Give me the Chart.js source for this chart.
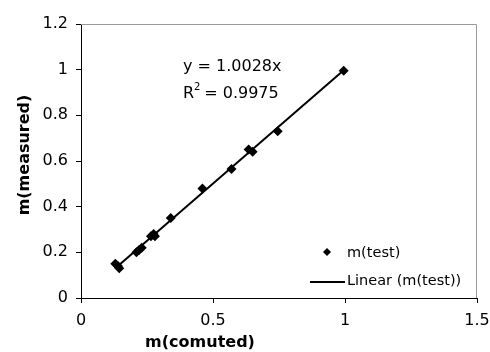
<!DOCTYPE html>
<html>
<head>
<meta charset="utf-8">
<script src="https://cdn.jsdelivr.net/npm/chart.js@4"></script>
<style>
  html, body { margin: 0; padding: 0; background: #fff; }
  #wrap { width: 490px; height: 352px; }
</style>
</head>
<body>
<div id="wrap"><canvas id="chart" width="490" height="352"></canvas></div>
<script>
// values
const computed = [0.13, 0.145, 0.14, 0.21, 0.22, 0.23, 0.265, 0.275, 0.28, 0.34, 0.46, 0.57, 0.635, 0.65, 0.745, 0.995];
const measured = [0.15, 0.13, 0.14, 0.20, 0.21, 0.22, 0.27, 0.28, 0.27, 0.35, 0.48, 0.565, 0.65, 0.64, 0.73, 0.995];
const slope = 1.0028;
const r2 = 0.9975;
const xTicks = [0, 0.5, 1, 1.5];
const yTicks = [0, 0.2, 0.4, 0.6, 0.8, 1, 1.2];

const points = computed.map((x, i) => ({ x: x, y: measured[i] }));
const xMin = Math.min(...computed);
const xMax = Math.max(...computed);
const trend = [{ x: xMin, y: slope * xMin }, { x: xMax, y: slope * xMax }];

const FONT = "'DejaVu Sans', sans-serif";
const fmt = v => String(+v.toFixed(2));

// axis titles, equation, legend and the grey frame
const extras = {
    id: 'extras',
    afterDraw(chart) {
        const ctx = chart.ctx;
        const a = chart.chartArea;
        ctx.save();
        // grey top / right frame
        ctx.strokeStyle = '#999';
        ctx.lineWidth = 1;
        ctx.beginPath();
        ctx.moveTo(a.left, a.top + 0.5);
        ctx.lineTo(a.right - 0.5, a.top + 0.5);
        ctx.lineTo(a.right - 0.5, a.bottom);
        ctx.stroke();

        ctx.fillStyle = '#000';
        // axis titles
        ctx.font = 'bold 16px ' + FONT;
        ctx.textAlign = 'center';
        ctx.textBaseline = 'middle';
        ctx.fillText('m(comuted)', 200, 343);
        ctx.save();
        ctx.translate(25, 155);
        ctx.rotate(-Math.PI / 2);
        ctx.fillText('m(measured)', 0, 0);
        ctx.restore();

        // trendline equation
        ctx.font = '16px ' + FONT;
        ctx.textAlign = 'left';
        ctx.fillText('y = ' + slope.toFixed(4) + 'x', 183, 67);
        ctx.fillText('R', 183, 94);
        const rw = ctx.measureText('R').width;
        ctx.font = '10px ' + FONT;
        ctx.fillText('2', 183 + rw, 87);
        ctx.font = '16px ' + FONT;
        ctx.fillText(' = ' + r2.toFixed(4), 183 + rw + 5, 94);

        // legend
        ctx.font = '14.5px ' + FONT;
        ctx.beginPath();
        ctx.moveTo(327, 248);
        ctx.lineTo(331, 252);
        ctx.lineTo(327, 256);
        ctx.lineTo(323, 252);
        ctx.closePath();
        ctx.fill();
        ctx.fillText('m(test)', 347, 253);
        ctx.lineWidth = 2;
        ctx.strokeStyle = '#000';
        ctx.beginPath();
        ctx.moveTo(310, 282);
        ctx.lineTo(345, 282);
        ctx.stroke();
        ctx.fillText('Linear (m(test))', 347, 281);
        ctx.restore();
    }
};

new Chart(document.getElementById('chart'), {
    type: 'scatter',
    data: {
        datasets: [{
            label: 'm(test)',
            data: points,
            pointStyle: 'rectRot',
            pointRadius: 5,
            backgroundColor: '#000',
            borderColor: '#000',
            borderWidth: 0
        }, {
            label: 'Linear (m(test))',
            type: 'line',
            data: trend,
            borderColor: '#000',
            borderWidth: 2,
            pointRadius: 0,
            fill: false
        }]
    },
    options: {
        responsive: false,
        animation: false,
        layout: { padding: { top: 24, right: 0, left: 0, bottom: 0 } },
        plugins: {
            legend: { display: false },
            tooltip: { enabled: false }
        },
        scales: {
            x: {
                type: 'linear',
                min: 0,
                max: 1.5,
                afterFit(scale) { scale.height = 54; scale.paddingRight = 13; scale.paddingLeft = 0; },
                afterBuildTicks(scale) { scale.ticks = xTicks.map(v => ({ value: v })); },
                grid: { drawOnChartArea: false, drawTicks: true, tickLength: 5, color: '#000' },
                border: { color: '#000', width: 1 },
                ticks: { color: '#000', padding: 8, font: { family: FONT, size: 16 }, maxRotation: 0, callback: fmt }
            },
            y: {
                type: 'linear',
                min: 0,
                max: 1.2,
                afterFit(scale) { scale.width = 81; },
                afterBuildTicks(scale) { scale.ticks = yTicks.map(v => ({ value: v })); },
                grid: { drawOnChartArea: false, drawTicks: true, tickLength: 5, color: '#000' },
                border: { color: '#000', width: 1 },
                ticks: { color: '#000', padding: 8, font: { family: FONT, size: 16 }, callback: fmt }
            }
        }
    },
    plugins: [extras]
});
</script>
</body>
</html>
